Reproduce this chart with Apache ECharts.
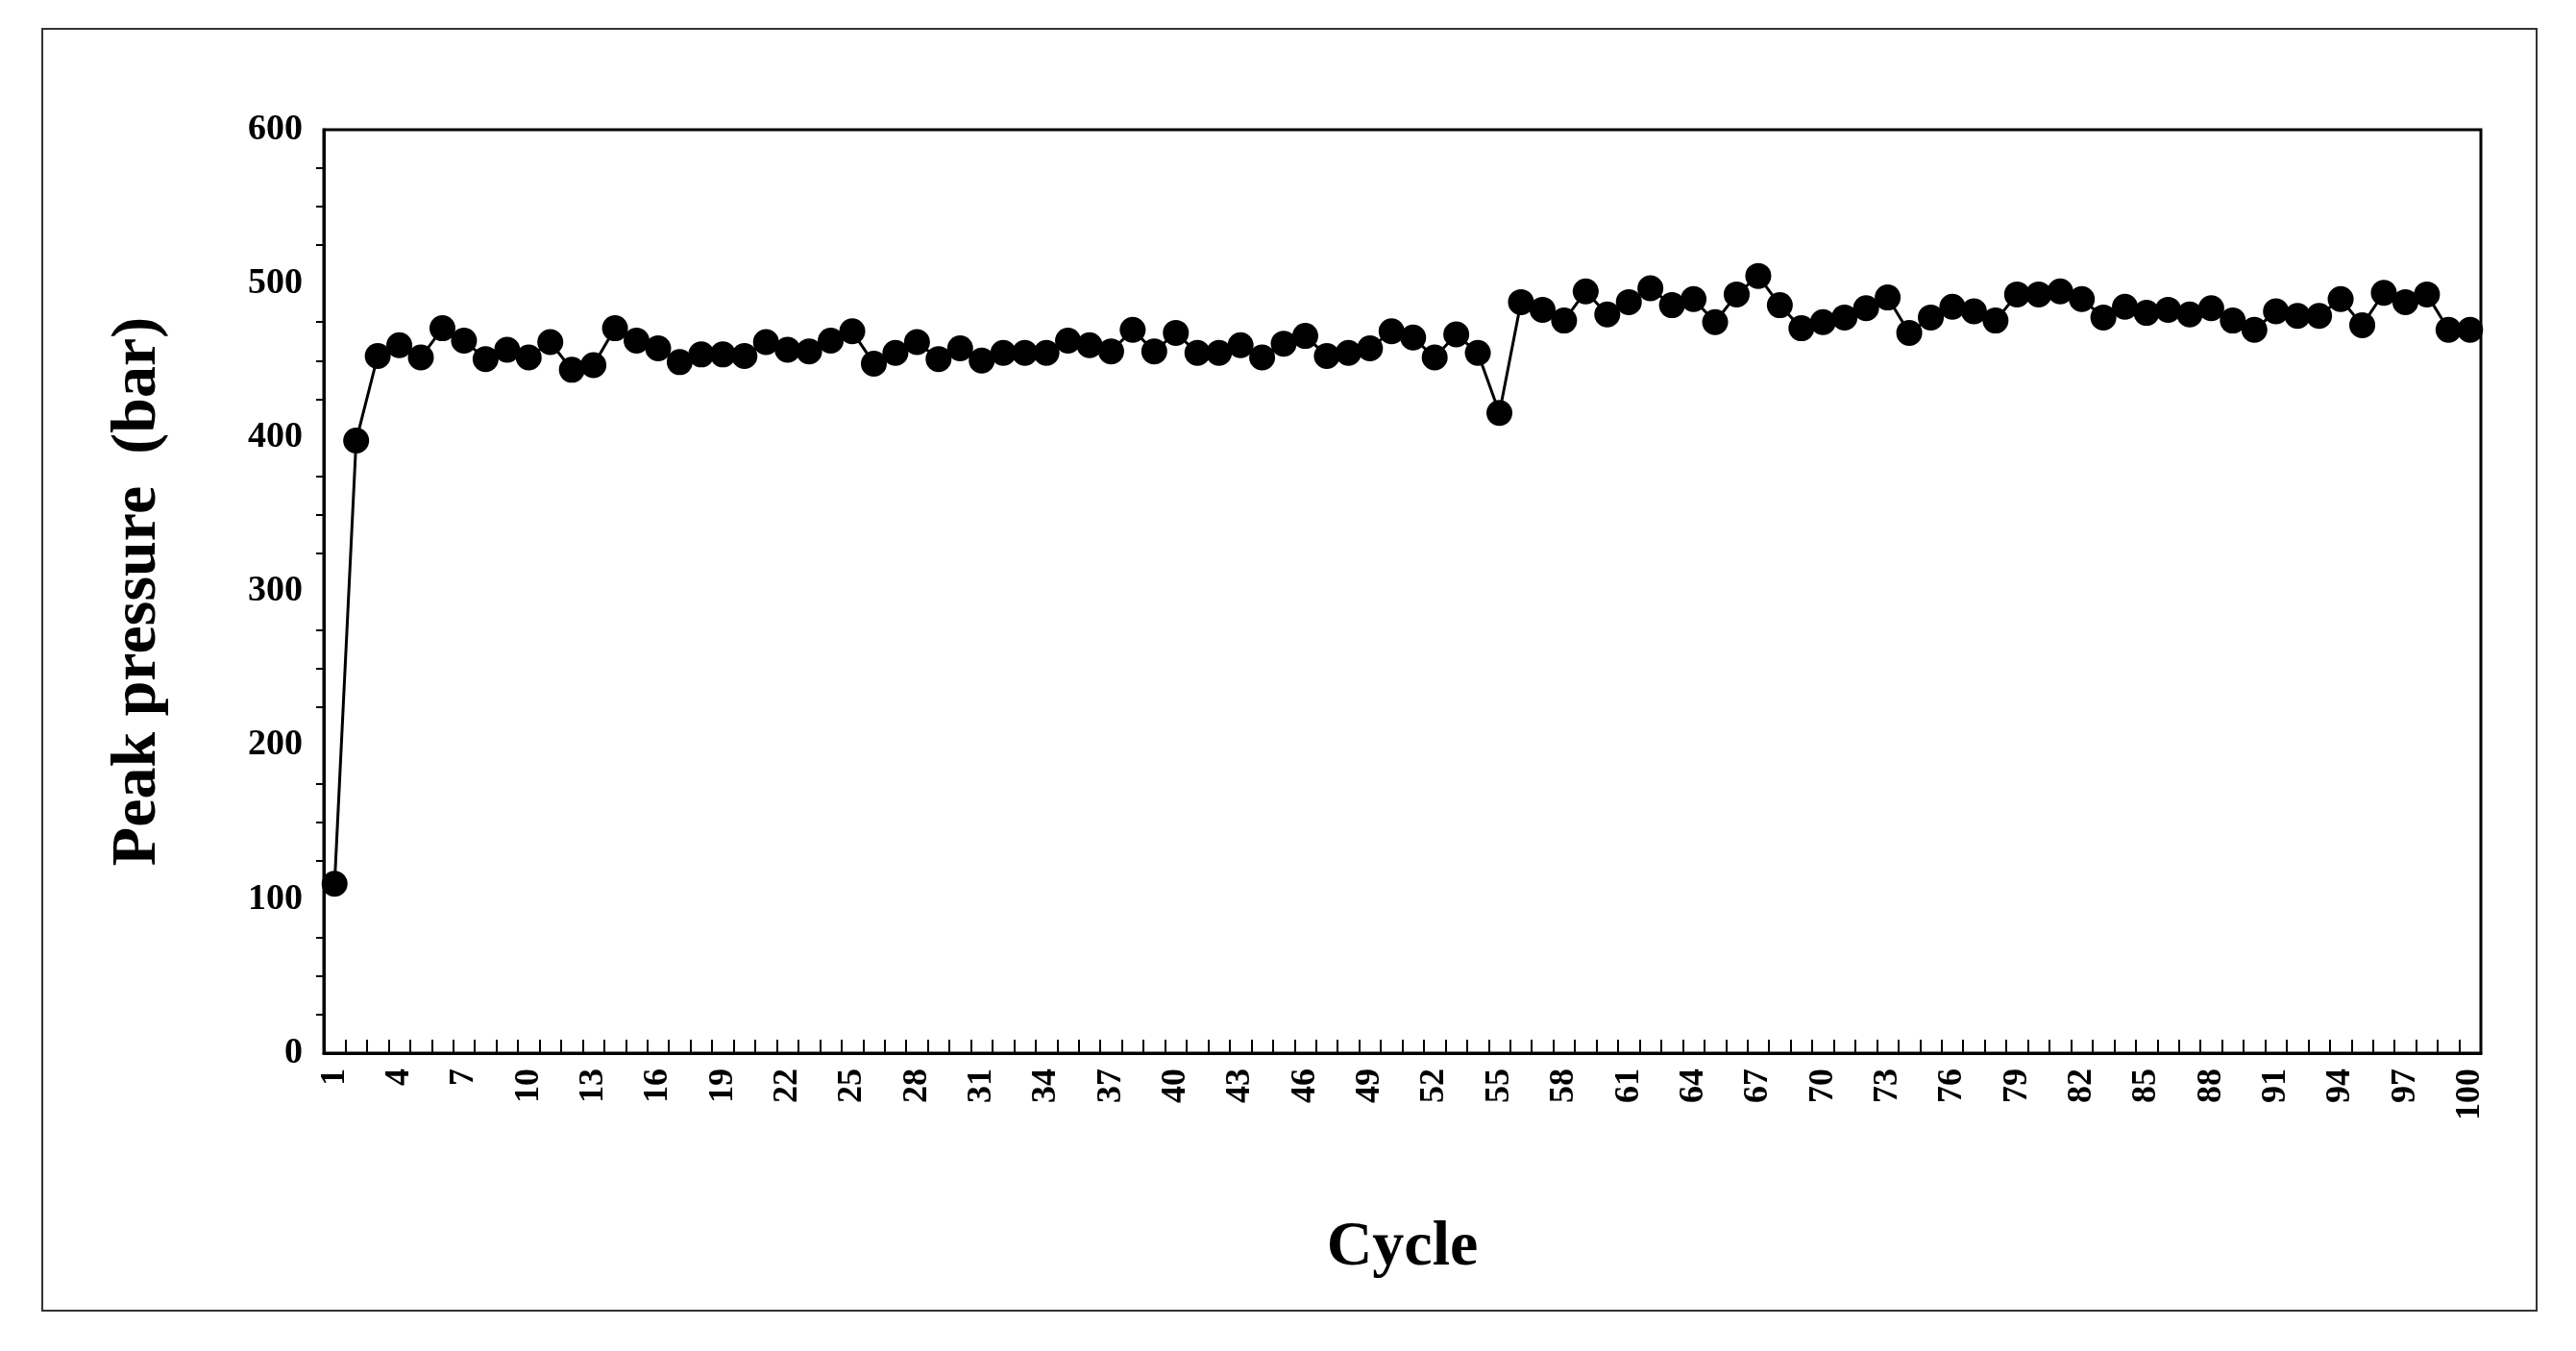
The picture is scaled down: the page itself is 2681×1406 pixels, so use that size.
<!DOCTYPE html>
<html>
<head>
<meta charset="utf-8">
<script src="https://cdn.jsdelivr.net/npm/echarts@6/dist/echarts.min.js"></script>
<style>
  html, body { margin: 0; padding: 0; background: #fff; }
  #frame { position: absolute; left: 43px; top: 29px; width: 2594px; height: 1332px; border: 2px solid #333; }
  #chart { position: absolute; left: 0; top: 0; width: 2681px; height: 1406px; }
</style>
</head>
<body>
<div id="frame"></div>
<div id="chart"></div>
<script>
// Peak pressure per cycle (bar)
const cycles = Array.from({ length: 100 }, (_, i) => String(i + 1));
const peakPressure = [
  110, 398, 453, 460, 452, 471, 463, 451, 457, 452,
  462, 444, 447, 471, 463, 458, 449, 454, 454, 453,
  462, 457, 456, 463, 469, 448, 455, 462, 451, 458,
  450, 455, 455, 455, 463, 460, 456, 470, 456, 468,
  455, 455, 460, 452, 461, 466, 453, 455, 458, 469,
  465, 452, 467, 455, 416, 488, 483, 476, 495, 480,
  488, 497, 486, 490, 475, 493, 505, 486, 471, 475,
  478, 484, 491, 468, 478, 485, 482, 476, 493, 493,
  495, 490, 478, 485, 481, 483, 480, 484, 476, 470,
  482, 479, 479, 490, 473, 494, 488, 493, 470, 470
];

const font = '"Liberation Serif", "Times New Roman", serif';
const chart = echarts.init(document.getElementById('chart'));

chart.setOption({
  backgroundColor: 'transparent',
  animation: false,
  grid: { left: 337, right: 99, top: 135, bottom: 310, show: true, borderColor: '#000', borderWidth: 3 },
  xAxis: {
    type: 'category',
    data: cycles,
    boundaryGap: true,
    name: 'Cycle',
    nameLocation: 'middle',
    nameGap: 170,
    nameTextStyle: { fontFamily: font, fontWeight: 'bold', fontSize: 66, color: '#000' },
    axisLine: { lineStyle: { color: '#000', width: 3 } },
    axisTick: { show: true, inside: true, interval: 0, length: 14, lineStyle: { color: '#000', width: 2 } },
    axisLabel: { interval: 2, rotate: 90, fontFamily: font, fontWeight: 'bold', fontSize: 36, color: '#000', margin: 16 }
  },
  yAxis: {
    type: 'value',
    min: 0, max: 600, interval: 100,
    name: 'Peak pressure  (bar)',
    nameLocation: 'middle',
    nameGap: 160,
    nameTextStyle: { fontFamily: font, fontWeight: 'bold', fontSize: 66, color: '#000' },
    axisLine: { show: true, lineStyle: { color: '#000', width: 3 } },
    axisTick: { length: 12, lineStyle: { color: '#000', width: 2 } },
    minorTick: { show: true, splitNumber: 4, length: 8, lineStyle: { color: '#000', width: 2 } },
    splitLine: { show: false },
    axisLabel: { fontFamily: font, fontWeight: 'bold', fontSize: 38, color: '#000', margin: 22 }
  },
  series: [{
    type: 'line',
    data: peakPressure,
    symbol: 'circle',
    symbolSize: 27,
    showAllSymbol: true,
    itemStyle: { color: '#000' },
    lineStyle: { color: '#000', width: 3 }
  }]
});
</script>
</body>
</html>
